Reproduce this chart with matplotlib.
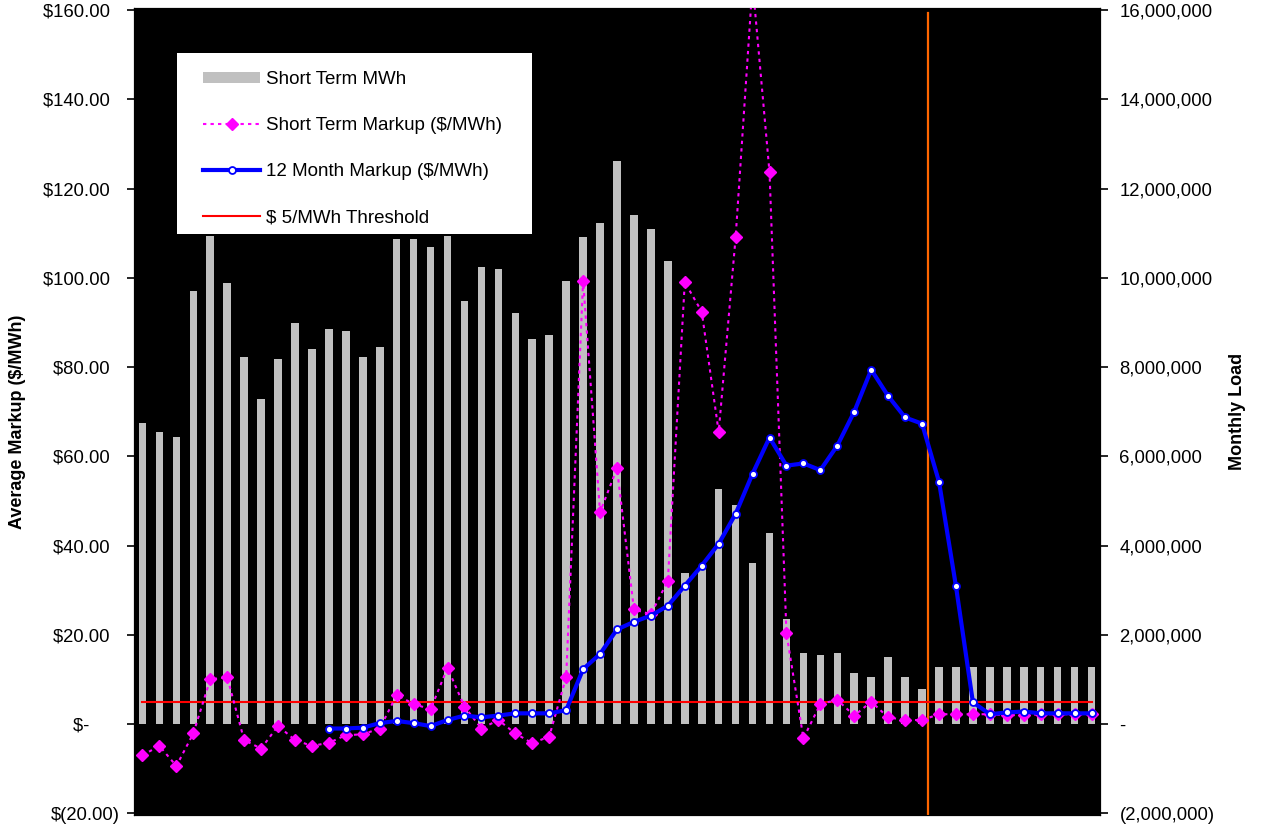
import matplotlib
matplotlib.use("Agg")
import matplotlib.pyplot as plt
from matplotlib.ticker import FixedLocator, FuncFormatter
from matplotlib.patches import Rectangle

plt.rcParams['font.family'] = ['Liberation Sans', 'DejaVu Sans']

# Monthly series (57 months)
months = list(range(1, 58))

# Short term energy purchased, MWh
short_term_mwh = [
    6.75e6, 6.55e6, 6.43e6, 9.71e6, 10.94e6, 9.89e6, 8.23e6, 7.29e6, 8.18e6, 8.99e6,
    8.41e6, 8.86e6, 8.81e6, 8.23e6, 8.45e6, 10.87e6, 10.87e6, 10.70e6, 10.94e6, 9.48e6,
    10.25e6, 10.20e6, 9.22e6, 8.63e6, 8.72e6, 9.93e6, 10.92e6, 11.23e6, 12.62e6, 11.41e6,
    11.10e6, 10.38e6, 3.39e6, 3.48e6, 5.27e6, 4.91e6, 3.61e6, 4.28e6, 2.35e6, 1.59e6,
    1.55e6, 1.59e6, 1.14e6, 1.05e6, 1.50e6, 1.05e6, 0.78e6, 1.28e6, 1.28e6, 1.28e6,
    1.28e6, 1.28e6, 1.28e6, 1.28e6, 1.28e6, 1.28e6, 1.28e6,
]

# Short term markup, $/MWh
short_term_markup = [
    -7.0, -4.9, -9.4, -2.1, 10.0, 10.5, -3.6, -5.5, -0.4, -3.6,
    -4.9, -4.2, -2.5, -2.3, -1.0, 6.5, 4.5, 3.3, 12.6, 3.9,
    -1.0, 0.9, -2.1, -4.3, -2.8, 10.5, 99.3, 47.5, 57.3, 25.7,
    24.6, 32.1, 99.0, 92.4, 65.4, 109.1, 166.0, 123.6, 20.3, -3.2,
    4.5, 5.4, 1.9, 5.0, 1.5, 0.9, 0.9, 2.2, 2.2, 2.2,
    2.2, 2.0, 2.0, 2.2, 2.2, 2.2, 2.2,
]

# Rolling 12 month markup, $/MWh (first available in month 12)
twelve_month_markup = [None] * 11 + [
    -1.0, -1.0, -0.8, 0.2, 0.7, 0.2, -0.45, 0.9, 1.9,
    1.5, 1.9, 2.4, 2.4, 2.4, 3.1, 12.3, 15.7, 21.2, 22.9,
    24.3, 26.5, 31.0, 35.5, 40.4, 47.1, 56.1, 64.2, 57.9, 58.4,
    56.9, 62.4, 70.0, 79.4, 73.5, 68.7, 67.3, 54.3, 30.9, 4.9,
    2.2, 2.6, 2.8, 2.4, 2.4, 2.4, 2.4,
]

threshold = [5.0] * len(months)
reporting_cutoff = 47.35

markup_ticks = [-20, 0, 20, 40, 60, 80, 100, 120, 140, 160]
load_ticks = [v * 100000 for v in markup_ticks]


def fmt_dollars(v, pos=None):
    if v == 0:
        return "$-      "
    if v < 0:
        return "$({:.2f})".format(-v)
    return "${:.2f}  ".format(v)


def fmt_load(v, pos=None):
    if v == 0:
        return "-"
    if v < 0:
        return "({:,.0f})".format(-v)
    return "{:,.0f}".format(v)


fig = plt.figure(figsize=(12.64, 8.33), dpi=100, facecolor='white')
ax = fig.add_axes([134 / 1264, 1 - 815 / 833, 966 / 1264, 807 / 833])
ax2 = ax.twinx()
ax.set_zorder(ax2.get_zorder() + 1)
ax.patch.set_visible(False)
ax2.patch.set_visible(True)
ax2.patch.set_facecolor('black')

ylo, yhi = -20.38, 160.45
ax.set_ylim(ylo, yhi)
ax2.set_ylim(ylo * 100000, yhi * 100000)
ax.set_xlim(0.5, 57.5)
ax.set_xticks([])

bars = ax2.bar(months, short_term_mwh, width=0.45, color='#C0C0C0',
               linewidth=0, label='Short Term MWh')

ax.axvline(reporting_cutoff, ymin=0, ymax=0.994, color='#FF6600', lw=1.6, zorder=1.5)
thr_line, = ax.plot(months, threshold, color='#FF0000', lw=1.5, zorder=2,
                    label='$ 5/MWh Threshold')
st_line, = ax.plot(months, short_term_markup, color='#FF00FF', lw=1.5,
                   linestyle=(0, (1.6, 2.0)), marker='D', markersize=6.2,
                   markerfacecolor='#FF00FF', markeredgecolor='#FF00FF',
                   zorder=3, label='Short Term Markup ($/MWh)')
tm_line, = ax.plot(months, twelve_month_markup, color='#0000FF', lw=3,
                   marker='o', markersize=5, markerfacecolor='white',
                   markeredgecolor='#0000FF', markeredgewidth=1.3,
                   zorder=3.5, label='12 Month Markup ($/MWh)')

ax.yaxis.set_major_locator(FixedLocator(markup_ticks))
ax.yaxis.set_major_formatter(FuncFormatter(fmt_dollars))
ax2.yaxis.set_major_locator(FixedLocator(load_ticks))
ax2.yaxis.set_major_formatter(FuncFormatter(fmt_load))

ax.tick_params(axis='y', direction='out', length=5, width=1.2, labelsize=13.3, pad=5)
ax2.tick_params(axis='y', direction='out', length=6, width=1.2, labelsize=13.3, pad=8)

ax.set_ylabel('Average Markup ($/MWh)', fontsize=13, fontweight='bold',
              ha='center', va='center')
ax.yaxis.set_label_coords((18 - 134) / 966, (815 - 422) / 807)
ax2.set_ylabel('Monthly Load', fontsize=13, fontweight='bold',
               rotation=90, ha='center', va='center')
ax2.yaxis.set_label_coords((1238 - 134) / 966, (815 - 411) / 807)

# Legend panel
ax.add_patch(Rectangle((43 / 966, (815 - 234) / 807), 355 / 966, 181 / 807,
                       transform=ax.transAxes, facecolor='white',
                       edgecolor='none', zorder=4))
ax.legend([bars, st_line, tm_line, thr_line],
          ['Short Term MWh', 'Short Term Markup ($/MWh)',
           '12 Month Markup ($/MWh)', '$ 5/MWh Threshold'],
          loc='upper left', bbox_to_anchor=(69 / 966, (815 - 71) / 807),
          frameon=False, borderpad=0, borderaxespad=0, handlelength=3.05,
          handleheight=0.53, handletextpad=0.3, labelspacing=1.55,
          fontsize=13.5, numpoints=1)

fig.savefig('out.png', dpi=100, facecolor='white')
